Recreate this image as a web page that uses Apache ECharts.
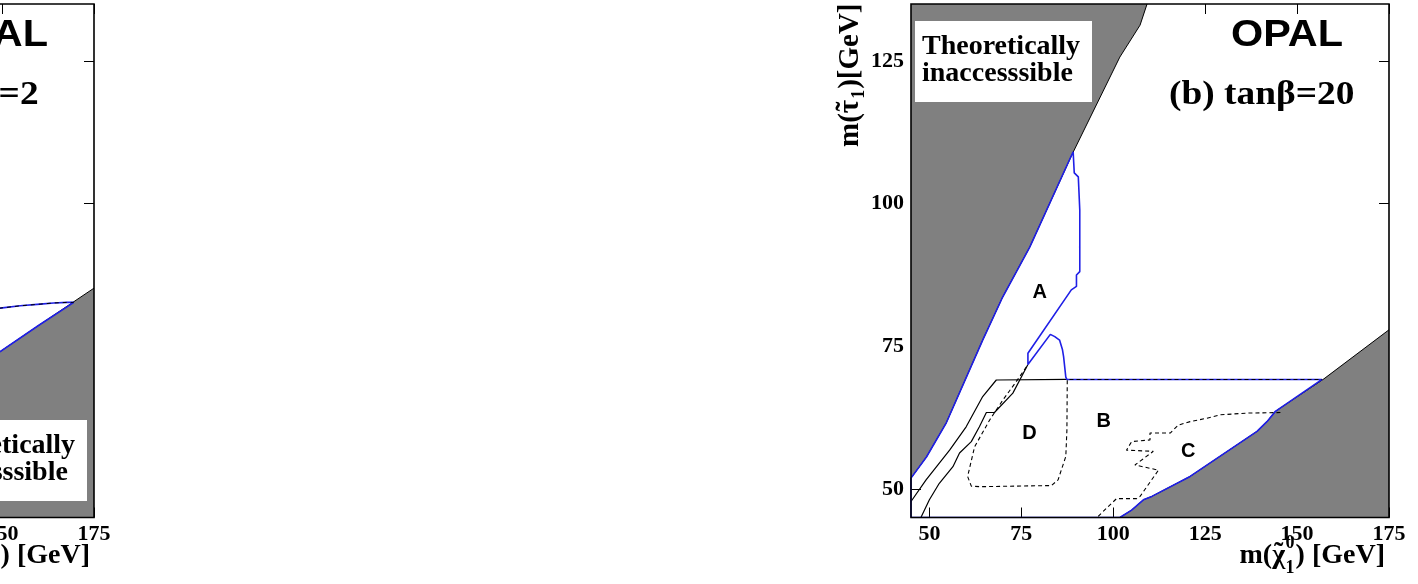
<!DOCTYPE html>
<html><head><meta charset="utf-8">
<script src="https://cdn.jsdelivr.net/npm/echarts@6/dist/echarts.min.js"></script>
<style>html,body{margin:0;padding:0;background:#fff}#c{width:1418px;height:584px}</style>
</head><body><div id="c"></div>
<script>
// ---- tick values ----
const xTicks = [50, 75, 100, 125, 150, 175];
const yTicks = [50, 75, 100, 125];

// ---- panel (a) tanβ=2 (only its right edge is inside the picture) ----
const aGrayBoundary = [[147, 73.0], [160, 78.7], [175, 85.2]];
const aBlueContour = [[147, 81.5], [149.5, 81.7], [154.9, 82.1], [160.4, 82.4], [164, 82.6], [167.7, 82.7], [169.5, 82.7], [160, 78.7], [149.5, 74.1], [147, 73.0]];

// ---- panel (b) tanβ=20 ----
const bUpperGray = [[45, 51.9], [49.2, 55.6], [54.6, 61.6], [64.5, 76.1], [69.9, 83.6], [77.3, 92.4], [89.0, 108.9], [101.8, 125.7], [107.3, 131.3], [109.2, 135]];
const bLowerGray = [[101.8, 45], [105.0, 46.3], [108.2, 48.1], [110.5, 48.7], [120.9, 52.2], [139.1, 60.1], [141.8, 61.8], [144.1, 63.6], [157.3, 69.3], [175, 77.9]];
const bBlueContour = [[45, 45], [45, 51.9], [49.2, 55.6], [54.6, 61.6], [64.5, 76.1], [69.9, 83.6], [77.3, 92.4], [89.1, 109.1],
  [89.4, 105.4], [90.5, 104.7], [90.9, 98.9], [90.9, 88.1], [90.0, 87.5], [90.0, 85.5], [88.6, 84.9], [76.8, 73.8], [76.8, 72.3], [76.8, 71.8],
  [82.9, 77.1], [84.1, 76.7], [85.4, 76.1], [86.2, 74.4], [86.5, 73.2], [87.1, 69.6], [87.4, 69.2], [156.8, 69.2],
  [144.1, 63.6], [141.8, 61.8], [139.1, 60.1], [120.9, 52.2], [110.5, 48.7], [108.2, 48.1], [105.0, 46.3], [101.8, 45], [45, 45]];
const bSolidUpper = [[45, 47.8], [49.1, 51.6], [55.5, 56.8], [60.0, 60.9], [64.5, 66.2], [68.2, 69.1], [87.4, 69.2]];
const bSolidLower = [[47.7, 45], [50, 48.1], [52.7, 51.0], [56.4, 53.9], [58.2, 56.3], [61.4, 58.3], [63.6, 60.9], [65.5, 63.4], [67.7, 63.4], [72.7, 66.8], [76.8, 71.8]];
const bDashedD = [[76.4, 71.4], [73.6, 68.8], [70.0, 65.6], [66.4, 62.1], [62.3, 57.4], [60.4, 52.2], [61.4, 50.5], [63.6, 50.4], [83.2, 50.6], [85.0, 51.6], [87.1, 55.7], [87.4, 60.3], [87.5, 69.2], [156.8, 69.2]];
const bDashedC = [[95.9, 45.2], [98.6, 46.9], [100.9, 48.3], [106.4, 48.3], [107.3, 48.7], [112.3, 53.3], [105.9, 54.2], [110.9, 56.6], [103.6, 56.8], [105.0, 58.3], [110, 58.6], [110, 59.8], [115.5, 59.8], [117.7, 61.2], [120.9, 61.8], [125.5, 62.4], [129.1, 63.0], [136.4, 63.3], [145.5, 63.4]];
const bDashedBottom = [[45, 45], [101.8, 45]];
const bRegionLabels = [['A', 80, 84.4], ['B', 97.4, 61.8], ['C', 120.4, 56.5], ['D', 77.2, 59.8]];

const SERIF = '"Liberation Serif", "Times New Roman", serif';
const SANS = '"Liberation Sans", Arial, sans-serif';
const GRAY = '#808080';
const BLUE = '#1f1fe6';

const mctx = document.createElement('canvas').getContext('2d');
function tw(s, font) { mctx.font = font; return mctx.measureText(s).width; }

function xAx(grid, pos) {
  const main = pos === 'bottom';
  return {
    type: 'value', gridIndex: grid, position: pos, min: 45, max: 175,
    splitLine: { show: false }, axisLine: { show: false },
    axisTick: { show: true, inside: true, length: 10, customValues: xTicks, lineStyle: { color: '#000', width: 1 } },
    axisLabel: { show: main, customValues: xTicks, margin: 6, showMinLabel: true, showMaxLabel: true, hideOverlap: false,
      fontFamily: SERIF, fontWeight: 'bold', fontSize: 22, color: '#000' }
  };
}
function yAx(grid, pos) {
  const main = pos === 'left';
  return {
    type: 'value', gridIndex: grid, position: pos, min: 45, max: 135,
    splitLine: { show: false }, axisLine: { show: false },
    axisTick: { show: true, inside: true, length: 10, customValues: yTicks, lineStyle: { color: '#000', width: 1 } },
    axisLabel: { show: main, customValues: yTicks, margin: 7, showMinLabel: true, showMaxLabel: true, hideOverlap: false,
      fontFamily: SERIF, fontWeight: 'bold', fontSize: 22, color: '#000' }
  };
}
function line(data, xi, color, opts) {
  return Object.assign({
    type: 'line', xAxisIndex: xi, yAxisIndex: xi, data: data, symbol: 'none', silent: true, z: 4,
    lineStyle: { color: color, width: 1.2 }
  }, opts || {});
}
function grayArea(data, xi, origin) {
  return {
    type: 'line', xAxisIndex: xi, yAxisIndex: xi, data: data, symbol: 'none', silent: true, z: 2,
    lineStyle: { color: '#000', width: 1 },
    areaStyle: { color: GRAY, opacity: 1, origin: origin }
  };
}

// panel placement: (b) is fully inside; (a) mostly lies to the left of the picture
const PB = { left: 911, top: 4, width: 478, height: 513.5 };
const SHIFT = 1295;
const PA = { left: PB.left - SHIFT, top: PB.top, width: PB.width, height: PB.height };

function panelText(dx, tag) {
  return [
    { type: 'text', x: 1287 - dx, y: 36, z: 20, scaleX: 1.15,
      style: { text: 'OPAL', font: 'bold 36px ' + SANS, fill: '#000', textAlign: 'center', textVerticalAlign: 'middle' } },
    { type: 'text', x: 1169 - dx, y: 95, z: 20, scaleX: 1.1,
      style: { text: tag, font: 'bold 34px ' + SERIF, fill: '#000', textAlign: 'left', textVerticalAlign: 'middle' } }
  ];
}
function box(x, y) {
  const f = 'bold 28px ' + SERIF;
  return [
    { type: 'rect', z: 20, shape: { x: x, y: y, width: 177, height: 81 }, style: { fill: '#fff' } },
    { type: 'text', z: 21, x: x + 7, y: y + 26, style: { text: 'Theoretically', font: f, fill: '#000', textAlign: 'left', textVerticalAlign: 'middle' } },
    { type: 'text', z: 21, x: x + 7, y: y + 53, style: { text: 'inaccesssible', font: f, fill: '#000', textAlign: 'left', textVerticalAlign: 'middle' } }
  ];
}
function xName(dx) {
  const F = 'bold 28px ' + SERIF, S = 'bold 18px ' + SERIF;
  const R = 1385 - dx, Y = 556;
  const start1 = R - tw(') [GeV]', F);
  const sc = start1 - 5.5;
  const endM = sc - 5;
  const wchi = tw('χ', F);
  const t = (text, x, y, font, align) => ({ type: 'text', z: 20, x: x, y: y,
    style: { text: text, font: font, fill: '#000', textAlign: align, textVerticalAlign: 'middle' } });
  return [
    t(') [GeV]', R, Y, F, 'right'),
    t('0', sc, Y - 13, S, 'center'),
    t('1', sc, Y + 12, S, 'center'),
    t('m(χ', endM, Y, F, 'right'),
    t('˜', endM - wchi / 2, Y - 2, F, 'center')
  ];
}
function yName(dx) {
  const F = 'bold 29px ' + SERIF, S = 'bold 18px ' + SERIF;
  const w0 = tw('m(', F), wt = tw('τ', F), w1 = tw('1', S);
  const t = (text, x, y, font, align) => ({ type: 'text', x: x, y: y,
    style: { text: text, font: font, fill: '#000', textAlign: align, textVerticalAlign: 'middle' } });
  return [{
    type: 'group', x: 851 - dx, y: 147, rotation: Math.PI / 2, z: 20,
    children: [
      t('m(', 0, 0, F, 'left'),
      t('τ', w0, 0, F, 'left'),
      t('˜', w0 + wt / 2, -2, F, 'center'),
      t('1', w0 + wt + 1, 8, S, 'left'),
      t(')[GeV]', w0 + wt + w1 + 2, 0, F, 'left')
    ]
  }];
}

const gridBase = { show: true, z: 10, borderColor: '#000', borderWidth: 1.6, backgroundColor: 'transparent', containLabel: false, outerBoundsMode: 'none' };

const chart = echarts.init(document.getElementById('c'), null, { renderer: 'canvas' });
chart.setOption({
  animation: false,
  backgroundColor: '#fff',
  grid: [Object.assign({}, gridBase, PA), Object.assign({}, gridBase, PB)],
  xAxis: [xAx(0, 'bottom'), xAx(0, 'top'), xAx(1, 'bottom'), xAx(1, 'top')],
  yAxis: [yAx(0, 'left'), yAx(0, 'right'), yAx(1, 'left'), yAx(1, 'right')],
  series: [
    // panel (a)
    grayArea(aGrayBoundary, 0, 'start'),
    line(aBlueContour, 0, BLUE, { lineStyle: { color: BLUE, width: 1.6 } }),
    line(aBlueContour.slice(0, 7), 0, '#000', { z: 5, lineStyle: { color: '#000', width: 1, type: [4, 4] } }),
    // panel (b)
    grayArea(bUpperGray, 2, 'end'),
    grayArea(bLowerGray, 2, 'start'),
    line(bSolidUpper, 2, '#000'),
    line(bSolidLower, 2, '#000'),
    line(bBlueContour, 2, BLUE, { lineStyle: { color: BLUE, width: 1.6 } }),
    line(bDashedD, 2, '#000', { z: 5, lineStyle: { color: '#000', width: 1.1, type: [4, 3] } }),
    line(bDashedC, 2, '#000', { z: 5, lineStyle: { color: '#000', width: 1.1, type: [4, 3] } }),
    line(bDashedBottom, 2, '#000', { z: 5, lineStyle: { color: '#000', width: 1.1, type: [4, 3] } }),
    {
      type: 'scatter', xAxisIndex: 2, yAxisIndex: 2, symbolSize: 0, silent: true, z: 6,
      itemStyle: { opacity: 1 },
      data: bRegionLabels.map(r => ({ name: r[0], value: [r[1], r[2]] })),
      label: { show: true, position: 'inside', formatter: '{b}', fontFamily: SANS, fontWeight: 'bold', fontSize: 20, color: '#000', opacity: 1 }
    }
  ],
  graphic: [].concat(
    panelText(SHIFT, '(a) tanβ=2'), panelText(0, '(b) tanβ=20'),
    box(915, 21), box(-90, 420),
    xName(SHIFT), xName(0), yName(0)
  )
});
</script></body></html>
